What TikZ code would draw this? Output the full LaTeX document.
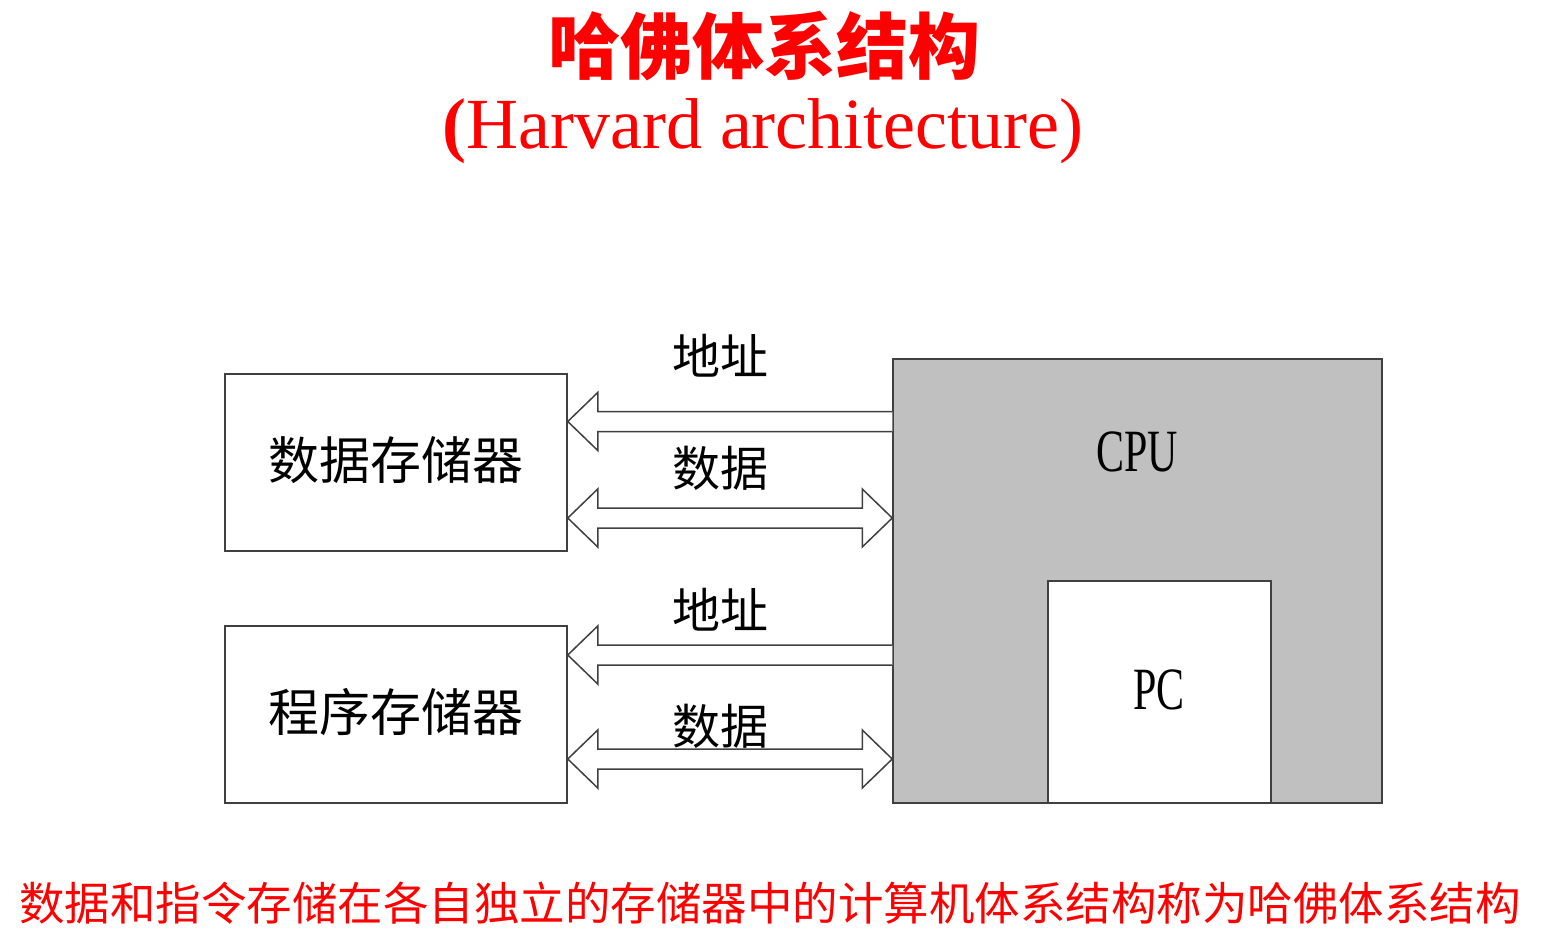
\documentclass[tikz,border=0pt]{standalone}
\usepackage{fontspec}
\setmainfont{Liberation Serif}
\newfontfamily\cjk{Noto Sans CJK SC}
\newfontfamily\cond[FakeStretch=0.7]{Liberation Serif}
\usetikzlibrary{calc}
\definecolor{linegray}{HTML}{404040}
\definecolor{cpugray}{HTML}{C0C0C0}
\definecolor{titlered}{HTML}{FF0000}
\tikzset{
  box/.style={draw=linegray, line width=1.5pt, inner sep=0pt},
  fatarrow/.style={draw=linegray, line width=1.5pt, line join=miter, fill=white},
  cjklabel/.style={inner sep=0pt, font=\cjk\fontsize{48}{48}\selectfont},
  latinlabel/.style={inner sep=0pt, font=\cond\fontsize{60}{60}\selectfont},
}
\begin{document}
\begin{tikzpicture}[x=1pt,y=-1pt]
\useasboundingbox[fill=white] (0,0) rectangle (1546,950);

% title
\node[inner sep=0pt, text=titlered, font=\cjk\bfseries\fontsize{72}{72}\selectfont] (title) at (764,46) {哈佛体系结构};
\node[inner sep=0pt, text=titlered, font=\fontsize{72}{72}\selectfont] (subtitle) at (763,131) {{\bfseries(}Harvard architecture)};

% boxes
\node[box, minimum width=342pt, minimum height=177pt] (dm) at (396,462.5) {};
\node[cjklabel, font=\cjk\fontsize{51}{51}\selectfont] (dmt) at (396,460) {数据存储器};
\node[box, minimum width=342pt, minimum height=177pt] (pm) at (396,714.5) {};
\node[cjklabel, font=\cjk\fontsize{51}{51}\selectfont] (pmt) at (396,712) {程序存储器};

\node[box, fill=cpugray, minimum width=489pt, minimum height=444pt] (cpu) at (1137.5,581) {};
\node[latinlabel] (cput) at (1137,452) {CPU};
\node[box, fill=white, minimum width=223pt, minimum height=222pt] (pc) at (1159.5,692) {};
\node[latinlabel] (pct) at (1159,690) {PC};

% arrow end coordinates
\coordinate (a1s) at (cpu.west |- 0,421.5);
\coordinate (a1e) at (dm.east |- 0,421.5);
\coordinate (d1s) at (cpu.west |- 0,518);
\coordinate (d1e) at (dm.east |- 0,518);
\coordinate (a2s) at (cpu.west |- 0,655);
\coordinate (a2e) at (pm.east |- 0,655);
\coordinate (d2s) at (cpu.west |- 0,759);
\coordinate (d2e) at (pm.east |- 0,759);

% address arrows (CPU -> memory)
\foreach \s/\e in {a1s/a1e, a2s/a2e}{
  \draw[fatarrow] (\s) ++(0,-10) -- ($(\e)+(30,-10)$) -- ($(\e)+(30,-29)$) -- (\e)
    -- ($(\e)+(30,29)$) -- ($(\e)+(30,10)$) -- ($(\s)+(0,10)$);
}
% data arrows (bidirectional)
\foreach \s/\e in {d1s/d1e, d2s/d2e}{
  \draw[fatarrow] (\e) -- ($(\e)+(30,-29)$) -- ($(\e)+(30,-10)$) -- ($(\s)+(-30,-10)$)
    -- ($(\s)+(-30,-29)$) -- (\s) -- ($(\s)+(-30,29)$) -- ($(\s)+(-30,10)$)
    -- ($(\e)+(30,10)$) -- ($(\e)+(30,29)$) -- cycle;
}

% bus labels
\node[cjklabel] (l1) at (720,356) {地址};
\node[cjklabel] (l2) at (720,468) {数据};
\node[cjklabel] (l3) at (720,610) {地址};
\node[cjklabel] (l4) at (720,726) {数据};

% caption
\node[inner sep=0pt, text=titlered, font=\cjk\fontsize{45.5}{45.5}\selectfont] (cap) at (770,903) {数据和指令存储在各自独立的存储器中的计算机体系结构称为哈佛体系结构};
\end{tikzpicture}
\end{document}
